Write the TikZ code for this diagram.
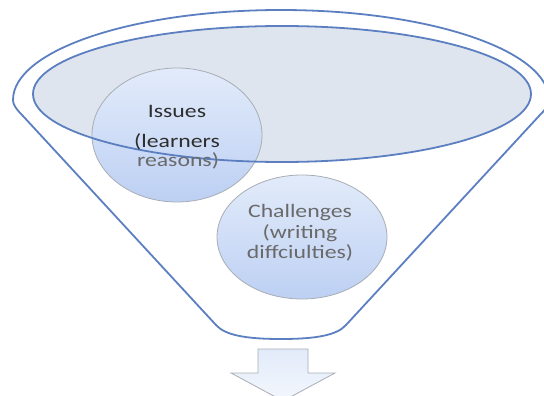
\documentclass[tikz,border=0pt]{standalone}
\usepackage{fontspec}
\setmainfont{Carlito}[FakeStretch=1.25]
\usetikzlibrary{shapes.geometric}
\definecolor{funblue}{HTML}{5B7FC0}
\definecolor{ellfill}{HTML}{DFE5EF}
\definecolor{circtop}{HTML}{E2EBFA}
\definecolor{circbot}{HTML}{BDD0F3}
\definecolor{circline}{HTML}{A8ADB5}
\definecolor{txtdark}{HTML}{2E2E2E}
\definecolor{txtgray}{HTML}{6A6A6A}
\tikzset{
  funline/.style={draw=funblue, line width=1.8pt},
  bubble/.style={ellipse, draw=circline, line width=0.8pt, top color=circtop, bottom color=circbot, inner sep=0pt},
  bubtext/.style={font=\fontsize{19}{20.5}\selectfont, align=center},
}
\begin{document}
\begin{tikzpicture}[x=1pt,y=-1pt]
\useasboundingbox (0,0) rectangle (544,396);
\clip (0,0) rectangle (544,396);
% outer funnel
\draw[funline, line join=round]
  (216,325) -- (23,116) .. controls (15,108) and (13,104) .. (13,100)
  arc[start angle=180, end angle=360, x radius=268, y radius=90]
  .. controls (549,104) and (547,108) .. (539,116) -- (346,325)
  .. controls (337,335) and (317,339) .. (281,339)
  .. controls (245,339) and (225,335) .. (216,325) -- cycle;
% inner ellipse fill
\fill[ellfill] (282,94) ellipse[x radius=249, y radius=68];
% issues bubble
\node[bubble, minimum width=170pt, minimum height=134pt] (issues) at (177,135) {};
% inner ellipse outline on top
\draw[funline] (282,94) ellipse[x radius=249, y radius=68];
\node[bubtext, text=txtdark] (t1) at (177,111) {Issues};
\node[bubtext, text=txtdark] (t2) at (177,142) {(learners};
\node[bubtext, text=txtgray] (t3) at (178,161) {reasons)};
% challenges bubble
\node[bubble, minimum width=170pt, minimum height=124pt] (chal) at (302,237) {};
\node[bubtext, text=txtgray] (ct) at (300,233) {Challenges\\(writing\\diffciulties)};
% arrow
\draw[draw=circline, line width=0.8pt, top color=circtop, bottom color=white!60!circtop, line join=miter]
  (258,349) -- (308,349) -- (308,373) -- (335,373) -- (283,401) -- (231,373) -- (258,373) -- cycle;
\end{tikzpicture}
\end{document}
